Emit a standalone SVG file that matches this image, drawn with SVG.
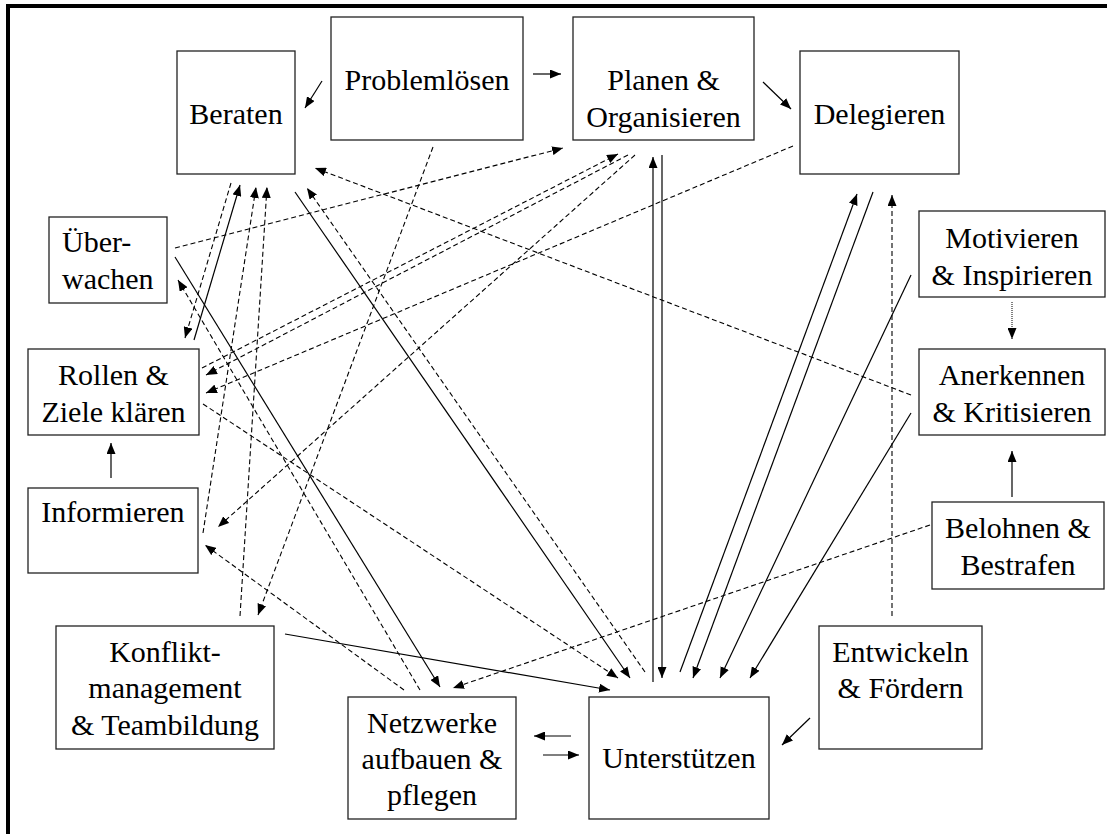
<svg xmlns="http://www.w3.org/2000/svg" width="1107" height="834" viewBox="0 0 1107 834">
  <style>
    .box { fill: #ffffff; stroke: #222222; stroke-width: 1.3; }
    text { font-family: 'Liberation Serif', 'DejaVu Serif', serif; font-size: 30px; fill: #000000; text-anchor: middle; }
    .lbl-left { text-anchor: start; }
    .solid { stroke: #000000; stroke-width: 1.2; fill: none; marker-end: url(#arrow); }
    .dash { stroke: #000000; stroke-width: 1.1; fill: none; stroke-dasharray: 5 3; marker-end: url(#arrow); }
    .dot { stroke: #000000; stroke-width: 1; fill: none; stroke-dasharray: 1 1; marker-end: url(#arrow); }
  </style>
  <defs>
    <marker id="arrow" markerUnits="userSpaceOnUse" viewBox="0 0 11 9" refX="11" refY="4.5" markerWidth="11" markerHeight="9" orient="auto">
      <path d="M0,0 L11,4.5 L0,9 Z" fill="#000000"/>
    </marker>
  </defs>

  <rect width="1107" height="834" fill="#ffffff"/>

  <!-- frame (top and left edges) -->
  <g id="frame">
    <rect x="6" y="4" width="1101" height="4" fill="#000000"/>
    <rect x="6" y="4" width="4" height="830" fill="#000000"/>
  </g>

  <!-- connectors -->
  <g id="connectors">
    <!-- short links between neighbouring boxes -->
    <line class="solid" x1="322" y1="81" x2="305" y2="108"/>
    <line class="solid" x1="533" y1="74" x2="561" y2="74"/>
    <line class="solid" x1="763" y1="82" x2="791" y2="109"/>
    <line class="solid" x1="111" y1="478" x2="111" y2="443"/>
    <line class="solid" x1="1012" y1="497" x2="1012" y2="451"/>
    <line class="dot" x1="1012" y1="302" x2="1012" y2="339"/>
    <line class="solid" x1="810" y1="718" x2="782" y2="745"/>
    <line class="solid" x1="571" y1="736" x2="534" y2="736"/>
    <line class="solid" x1="543" y1="755" x2="579" y2="755"/>

    <!-- long solid links -->
    <line class="solid" x1="194" y1="340" x2="240" y2="185"/>
    <line class="solid" x1="175" y1="257" x2="440" y2="687"/>
    <line class="solid" x1="295" y1="192" x2="630" y2="678"/>
    <line class="solid" x1="653" y1="682" x2="653" y2="157"/>
    <line class="solid" x1="662" y1="155" x2="662" y2="678"/>
    <line class="solid" x1="680" y1="672" x2="857" y2="194"/>
    <line class="solid" x1="873" y1="192" x2="693" y2="678"/>
    <line class="solid" x1="911" y1="275" x2="720" y2="678"/>
    <line class="solid" x1="911" y1="413" x2="750" y2="678"/>
    <line class="solid" x1="285" y1="634" x2="610" y2="690"/>

    <!-- dashed links -->
    <line class="dash" x1="231" y1="183" x2="185" y2="338"/>
    <line class="dash" x1="203" y1="533" x2="256" y2="187"/>
    <line class="dash" x1="240" y1="616" x2="267" y2="187"/>
    <line class="dash" x1="645" y1="672" x2="307" y2="188"/>
    <line class="dash" x1="911" y1="395" x2="315" y2="168"/>
    <line class="dash" x1="175" y1="248" x2="563" y2="148"/>
    <line class="dash" x1="202" y1="368" x2="618" y2="154"/>
    <line class="dash" x1="628" y1="155" x2="206" y2="375"/>
    <line class="dash" x1="793" y1="146" x2="206" y2="393"/>
    <line class="dash" x1="635" y1="155" x2="218" y2="527"/>
    <line class="dash" x1="433" y1="147" x2="258" y2="615"/>
    <line class="dash" x1="420" y1="690" x2="178" y2="280"/>
    <line class="dash" x1="404" y1="690" x2="205" y2="545"/>
    <line class="dash" x1="930" y1="525" x2="453" y2="688"/>
    <line class="dash" x1="203" y1="404" x2="618" y2="678"/>
    <line class="dash" x1="892" y1="616" x2="892" y2="195"/>
  </g>

  <!-- nodes -->
  <g id="beraten">
    <rect class="box" x="177" y="51" width="118" height="123"/>
    <text x="236" y="124" font-family="Liberation Serif, serif">Beraten</text>
  </g>
  <g id="problemloesen">
    <rect class="box" x="331" y="17" width="192" height="123"/>
    <text x="427" y="90" font-family="Liberation Serif, serif">Problemlösen</text>
  </g>
  <g id="planen">
    <rect class="box" x="573" y="17" width="181" height="123"/>
    <text x="663.5" y="90" font-family="Liberation Serif, serif">Planen &amp;</text>
    <text x="663.5" y="127" font-family="Liberation Serif, serif">Organisieren</text>
  </g>
  <g id="delegieren">
    <rect class="box" x="800" y="51" width="159" height="123"/>
    <text x="879.5" y="124" font-family="Liberation Serif, serif">Delegieren</text>
  </g>
  <g id="ueberwachen">
    <rect class="box" x="49" y="217" width="118" height="86"/>
    <text class="lbl-left" x="62" y="252" font-family="Liberation Serif, serif">Über-</text>
    <text class="lbl-left" x="62" y="289" font-family="Liberation Serif, serif">wachen</text>
  </g>
  <g id="motivieren">
    <rect class="box" x="919" y="211" width="186" height="86"/>
    <text x="1012" y="248" font-family="Liberation Serif, serif">Motivieren</text>
    <text x="1012" y="285" font-family="Liberation Serif, serif">&amp; Inspirieren</text>
  </g>
  <g id="rollen">
    <rect class="box" x="28" y="349" width="171" height="86"/>
    <text x="113.5" y="385" font-family="Liberation Serif, serif">Rollen &amp;</text>
    <text x="113.5" y="422" font-family="Liberation Serif, serif">Ziele klären</text>
  </g>
  <g id="anerkennen">
    <rect class="box" x="919" y="349" width="186" height="86"/>
    <text x="1012" y="385" font-family="Liberation Serif, serif">Anerkennen</text>
    <text x="1012" y="422" font-family="Liberation Serif, serif">&amp; Kritisieren</text>
  </g>
  <g id="informieren">
    <rect class="box" x="28" y="488" width="170" height="85"/>
    <text x="113" y="522" font-family="Liberation Serif, serif">Informieren</text>
  </g>
  <g id="belohnen">
    <rect class="box" x="932" y="502" width="172" height="87"/>
    <text x="1018" y="538" font-family="Liberation Serif, serif">Belohnen &amp;</text>
    <text x="1018" y="575" font-family="Liberation Serif, serif">Bestrafen</text>
  </g>
  <g id="konflikt">
    <rect class="box" x="56" y="626" width="218" height="123"/>
    <text x="165" y="662" font-family="Liberation Serif, serif">Konflikt-</text>
    <text x="165" y="698" font-family="Liberation Serif, serif">management</text>
    <text x="165" y="735" font-family="Liberation Serif, serif">&amp; Teambildung</text>
  </g>
  <g id="netzwerke">
    <rect class="box" x="348" y="697" width="168" height="122"/>
    <text x="432" y="733" font-family="Liberation Serif, serif">Netzwerke</text>
    <text x="432" y="769" font-family="Liberation Serif, serif">aufbauen &amp;</text>
    <text x="432" y="805" font-family="Liberation Serif, serif">pflegen</text>
  </g>
  <g id="unterstuetzen">
    <rect class="box" x="589" y="697" width="180" height="122"/>
    <text x="679" y="768" font-family="Liberation Serif, serif">Unterstützen</text>
  </g>
  <g id="entwickeln">
    <rect class="box" x="819" y="626" width="163" height="123"/>
    <text x="900.5" y="662" font-family="Liberation Serif, serif">Entwickeln</text>
    <text x="900.5" y="698" font-family="Liberation Serif, serif">&amp; Fördern</text>
  </g>
</svg>
